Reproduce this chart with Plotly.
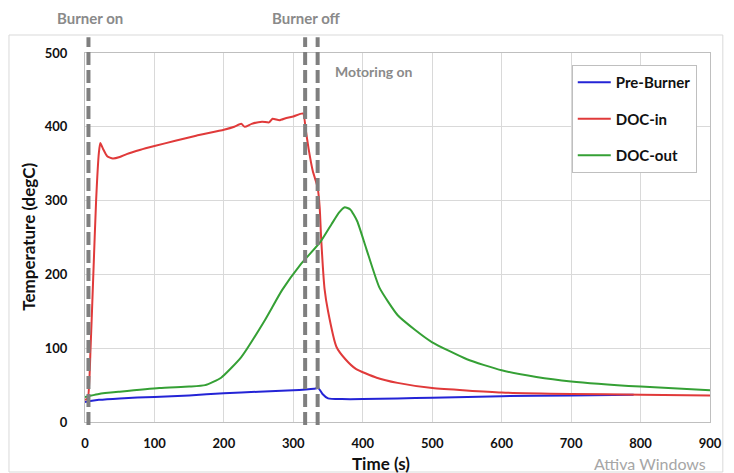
import plotly.graph_objects as go

# ---- data ----
pre_t = [0, 5, 20, 50, 100, 150, 200, 250, 300, 318, 330, 336, 342, 350, 370, 400, 450, 500, 600, 700, 790]
pre_v = [27, 28, 30, 32, 34, 36, 39, 41, 43, 44, 45, 46, 38, 32, 31, 31, 32, 33, 35, 36, 37]

docin_t = [0, 4, 8, 12, 16, 20, 22, 26, 32, 40, 50, 60, 80, 100, 130, 160, 200, 215, 225, 230, 240, 255,
           265, 270, 280, 290, 300, 314, 318, 322, 328, 335, 338, 340, 345, 350, 362, 375, 390, 420,
           450, 500, 600, 700, 800, 900]
docin_v = [30, 32, 100, 200, 300, 365, 378, 370, 360, 357, 359, 363, 369, 374, 381, 388, 396, 400, 404, 400,
           404, 407, 406, 411, 409, 412, 414, 418, 395, 370, 340, 318, 290, 250, 180, 150, 102, 85, 72, 60,
           53, 46, 40, 38, 37, 36]

docout_t = [0, 5, 20, 50, 107, 150, 173, 196, 225, 259, 284, 310, 339, 355, 366, 374, 382, 392, 405, 424,
            450, 475, 500, 550, 600, 650, 700, 800, 900]
docout_v = [34, 35, 38, 41, 46, 48, 50, 60, 88, 138, 179, 213, 244, 268, 284, 291, 288, 272, 235, 182,
            145, 125, 108, 85, 70, 61, 55, 48, 43]

event_t = [5, 317, 335]
x_ticks = list(range(0, 901, 100))
y_ticks = list(range(0, 501, 100))

FONT = "Lato, 'Open Sans', sans-serif"

fig = go.Figure()
series = [("Pre-Burner", pre_t, pre_v, "#2424d6"),
          ("DOC-in", docin_t, docin_v, "#e03a3a"),
          ("DOC-out", docout_t, docout_v, "#35a035")]
for name, t, v, c in series:
    fig.add_trace(go.Scatter(x=t, y=v, mode="lines", name=f"<b>{name}</b>", legendgroup=name,
                             line=dict(color=c, width=2, shape="spline", smoothing=0.5)))

for t in event_t:
    fig.add_shape(type="line", xref="x", yref="paper", x0=t, x1=t, y0=-0.008, y1=1.043,
                  line=dict(color="#7f7f7f", width=4, dash="13px,5px"), layer="above")

# outer chart frame
fig.add_shape(type="rect", xref="paper", yref="paper",
              x0=(8 - 85) / 633, x1=(731 - 85) / 633, y0=(422 - 472) / 369, y1=(422 - 35) / 369,
              line=dict(color="#d9d9d9", width=1), layer="below")

grey = "#8a8a8a"
fig.add_annotation(x=(90 - 85) / 633, xref="paper", y=(422 - 18) / 369, yref="paper", text="<b>Burner on</b>",
                   showarrow=False, font=dict(family=FONT, size=15, color=grey), xanchor="center", yanchor="middle")
fig.add_annotation(x=(309 - 85) / 633, xref="paper", y=(422 - 18) / 369, yref="paper", text="<b>Burner off</b>",
                   showarrow=False, font=dict(family=FONT, size=15, color=grey), xanchor="center", yanchor="middle")
fig.add_annotation(x=(336 - 85) / 633, xref="paper", y=(422 - 72) / 369, yref="paper", text="<b>Motoring on</b>",
                   showarrow=False, font=dict(family=FONT, size=14, color=grey), xanchor="left", yanchor="middle")
fig.add_annotation(x=(385 - 85) / 633, xref="paper", y=(422 - 463) / 369, yref="paper",
                   text="<b>Time (s)</b>", showarrow=False, font=dict(family=FONT, size=17, color="#111111"),
                   xanchor="center", yanchor="middle")
fig.add_annotation(x=(27 - 85) / 633, xref="paper", y=(422 - 237) / 369, yref="paper", text="<b>Temperature (degC)</b>",
                   textangle=-90, showarrow=False, font=dict(family=FONT, size=17, color="#111111"),
                   xanchor="center", yanchor="middle")
fig.add_annotation(x=(716 - 85) / 633, xref="paper", y=(422 - 463) / 369, yref="paper",
                   text="Attiva Windows", showarrow=False, font=dict(family=FONT, size=16, color="#a6a6a6"),
                   xanchor="right", yanchor="middle")

axis_common = dict(showgrid=True, gridcolor="#d9d9d9", gridwidth=1, showline=True, linecolor="#bfbfbf",
                   linewidth=1, mirror=True, zeroline=False, ticks="",
                   tickfont=dict(family=FONT, size=13, color="#111111"))
fig.update_xaxes(range=[0, 900], tickvals=x_ticks, ticktext=[f"<b>{v}</b>" for v in x_ticks],
                 ticklabelstandoff=9, **axis_common)
fig.update_yaxes(range=[0, 500], tickvals=y_ticks, ticktext=[f"<b>{v}</b>" for v in y_ticks],
                 ticklabelstandoff=14, **axis_common)

fig.update_layout(
    width=734, height=473, margin=dict(l=85, r=16, t=53, b=51),
    paper_bgcolor="white", plot_bgcolor="white", font=dict(family=FONT),
    legend=dict(x=(578 - 85) / 633, y=(422 - 65) / 369, xanchor="left", yanchor="top",
                bgcolor="white", bordercolor="#bfbfbf", borderwidth=1,
                font=dict(family=FONT, size=15, color="#111111"), traceorder="grouped",
                tracegroupgap=14, itemwidth=33),
    showlegend=True,
)

fig.write_html("out.html")
